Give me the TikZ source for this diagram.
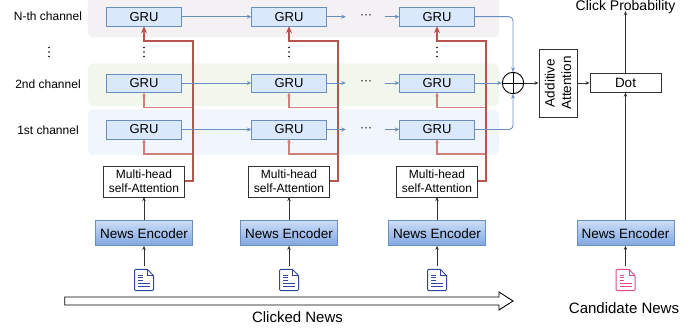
\documentclass[tikz,border=0pt]{standalone}
\usepackage{fontspec}
\setmainfont{Liberation Sans}
\usetikzlibrary{arrows.meta}
\definecolor{bstroke}{HTML}{6C8EBF}
\definecolor{bfill}{HTML}{DAE8FC}
\definecolor{btop}{HTML}{CCDDF7}
\definecolor{bdark}{HTML}{7EA6E0}
\definecolor{rstroke}{HTML}{B85450}
\definecolor{rthin}{HTML}{D0807B}
\definecolor{bandN}{HTML}{F4F1F5}
\definecolor{bandTwo}{HTML}{F2F7EE}
\definecolor{bandOne}{HTML}{F1F5FC}
\definecolor{navydoc}{HTML}{33449E}
\definecolor{pinkdoc}{HTML}{E4468E}
\definecolor{dgray}{HTML}{333333}
\begin{document}
\begin{tikzpicture}[x=1pt,y=-1pt,
  gru/.style={draw=bstroke, fill=bfill, minimum width=75pt, minimum height=18.5pt, inner sep=0pt, font=\fontsize{13}{15}\selectfont},
  lbl/.style={inner sep=0pt, font=\fontsize{12}{14}\selectfont},
  mh/.style={draw=dgray, fill=white, minimum width=81pt, minimum height=31pt, inner sep=0pt, align=center, font=\fontsize{12}{14.5}\selectfont},
  ne/.style={draw=bstroke, top color=btop, bottom color=bdark, minimum width=97pt, minimum height=25pt, inner sep=0pt, font=\fontsize{13.5}{16}\selectfont},
  docnode/.style={minimum width=19pt, minimum height=21pt, inner sep=0pt},
  bigtext/.style={inner sep=0pt, font=\fontsize{15}{18}\selectfont},
  blink/.style={draw=bstroke, line width=0.9pt},
  barr/.style={blink, -{Stealth[length=4.5pt,width=4pt]}},
  karr/.style={draw=dgray, line width=0.9pt, -{Stealth[length=4pt,width=3.5pt]}},
  redthick/.style={draw=rstroke, line width=2pt, -{Stealth[length=7pt,width=6pt]}},
  redthin/.style={draw=rthin, line width=1.1pt, -{Stealth[length=4pt,width=3.5pt]}},
  pics/docicon/.style={code={
    \draw[#1, line width=1pt, fill=white, line join=round, rounded corners=1pt]
      (-9.5,-10.5) -- (3.5,-10.5) -- (9.5,-4.5) -- (9.5,10.5) -- (-9.5,10.5) -- cycle;
    \draw[#1, line width=0.8pt] (3.5,-10.5) -- (3.5,-4.5) -- (9.5,-4.5);
    \draw[#1, line width=0.8pt] (-6,-5) -- (-1.5,-5) (-6,-2.5) -- (-1.5,-2.5) (-6,0) -- (-1.5,0)
      (-6,3) -- (6,3) (-6,6) -- (6,6);
  }}
]
\useasboundingbox (0,0) rectangle (699,331);

% channel bands
\fill[bandN, rounded corners=6pt] (88,-12) rectangle (499,37.3);
\fill[bandTwo, rounded corners=6pt] (88,63.3) rectangle (499,106);
\fill[bandOne, rounded corners=6pt] (88,109.3) rectangle (499,155);

% labels
\node[lbl] (labN) at (48,16.7) {N-th channel};
\node[lbl] (labB) at (48,84) {2nd channel};
\node[lbl] (labA) at (48,130) {1st channel};
\foreach \yy in {47.5,52,56.5} \fill (49,\yy) circle (0.9pt);

\foreach \i/\x in {1/144,2/289,3/437} {
  \node[gru] (gN\i) at (\x,16.7) {GRU};
  \node[gru] (gB\i) at (\x,83) {GRU};
  \node[gru] (gA\i) at (\x,129.5) {GRU};
  \node[mh] (mh\i) at (\x,181.3) {Multi-head\\self-Attention};
  \node[ne] (ne\i) at (\x,233.2) {News Encoder};
  \node[docnode] (doc\i) at (\x,280) {};
  \pic at (doc\i) {docicon=navydoc};
  \foreach \yy in {47.5,52,56.5} \fill (\x,\yy) circle (0.9pt);
  \coordinate (rv\i) at (\x+49,41);
  \coordinate (rb\i) at (\x+49,107.5);
  \coordinate (ra\i) at (\x+49,154);
  \draw[redthin] (rb\i) -| (gB\i.south);
  \draw[redthin] (ra\i) -| (gA\i.south);
  \draw[redthick] (mh\i.east) -| (rv\i) -| (gN\i.south);
  \draw[karr] (ne\i.north) -- (mh\i.south);
  \draw[karr, shorten <=3pt] (doc\i.north) -- (ne\i.south);
}

% horizontal GRU chains
\foreach \r/\yy in {N/16.7,B/83,A/129.5} {
  \node[lbl] (dots\r) at (366,\yy) {···};
  \draw[barr] (g\r1.east) -- (g\r2.west);
  \draw[barr] (g\r2.east) -- ([xshift=-14pt]dots\r.west);
  \draw[barr] ([xshift=13pt]dots\r.east) -- (g\r3.west);
}

% aggregation
\node[circle, draw=black, line width=0.9pt, minimum size=21.4pt, inner sep=0pt] (plus) at (513,83) {};
\draw[line width=0.9pt] (plus.north) -- (plus.south) (plus.west) -- (plus.east);
\draw[barr, rounded corners=4pt] (gN3.east) -| (plus.north);
\draw[barr] (gB3.east) -- (plus.west);
\draw[barr, rounded corners=4pt] (gA3.east) -| (plus.south);

\node[draw=dgray, line width=0.9pt, rotate=90, minimum width=68pt, minimum height=38pt, inner sep=0pt, align=center, font=\fontsize{13.5}{16.5}\selectfont] (aa) at (558,83) {Additive\\Attention};
\node[draw=dgray, line width=0.9pt, minimum width=71pt, minimum height=18.5pt, inner sep=0pt, font=\fontsize{13.5}{16}\selectfont] (dot) at (625.5,83) {Dot};
\draw[karr] (plus.east) -- (aa.north);
\draw[karr] (aa.south) -- (dot.west);
\node[inner sep=0pt, font=\fontsize{14}{16}\selectfont] (cp) at (625.5,6.5) {Click Probability};
\draw[karr, shorten >=-2pt] (dot.north) -- (cp.south);

% candidate side
\node[ne] (ne4) at (625.5,233.2) {News Encoder};
\node[docnode] (doc4) at (625.5,280) {};
\pic at (doc4) {docicon=pinkdoc};
\draw[karr] (ne4.north) -- (dot.south);
\draw[karr, shorten <=3pt] (doc4.north) -- (ne4.south);
\node[bigtext] (cand) at (624,308) {Candidate News};

% clicked news big arrow
\draw[line width=0.9pt, fill=white, line join=miter]
  (64.7,297) -- (499,297) -- (499,292) -- (513,301) -- (499,310) -- (499,305) -- (64.7,305) -- cycle;
\node[bigtext] (clk) at (297.5,317.5) {Clicked News};
\end{tikzpicture}
\end{document}
